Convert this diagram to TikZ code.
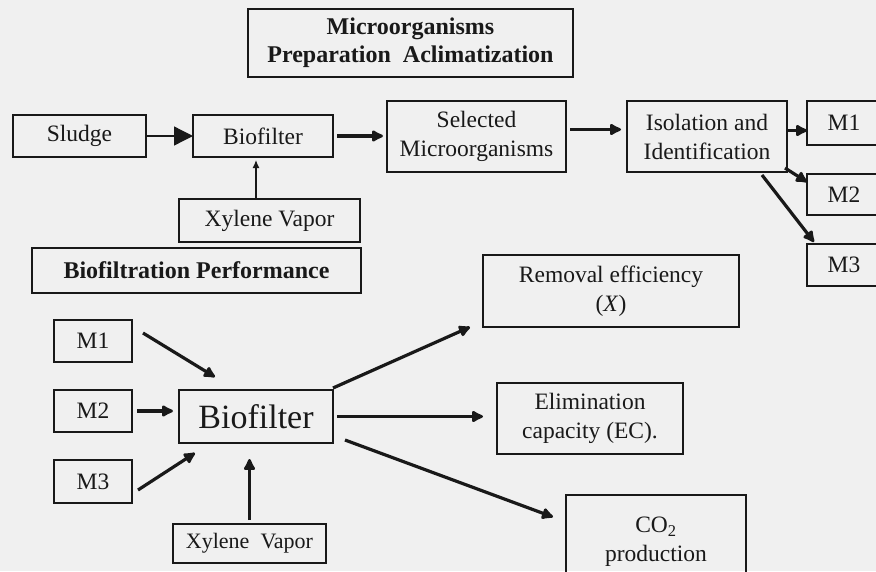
\documentclass[tikz,border=0pt]{standalone}
\usepackage{fontspec}
\setmainfont{Liberation Serif}
\usetikzlibrary{arrows.meta}
\definecolor{paper}{gray}{0.94}
\definecolor{ink}{gray}{0.1}
\begin{document}
\begin{tikzpicture}[x=1pt,y=-1pt,
	box/.style={draw=ink,line width=1.8pt,inner sep=0pt,outer sep=0pt,align=center,text=ink,font=\fontsize{23.5}{29}\selectfont},
	headbox/.style={box,font=\fontsize{24}{28}\selectfont\bfseries},
	flow/.style={draw=ink,line width=3.2pt,-{Latex[length=14pt,width=14pt,round]}},
	feed/.style={draw=ink,line width=1.3pt,-{Latex[length=8pt,width=7pt]}}]
	\fill [paper] (0,0) rectangle (876,571);
	\useasboundingbox (0,0) rectangle (876,571);
	\node [headbox,minimum width=325pt,minimum height=68pt] (prep) at (410.5,43) {Microorganisms\\Preparation\ \ Aclimatization};
	\node [box,minimum width=133pt,minimum height=42pt] (sludge) at (79.5,136) {Sludge};
	\node [box,minimum width=140pt,minimum height=42pt] (bioA) at (263,136) {Biofilter};
	\node [box,minimum width=181pt,minimum height=43pt] (xylA) at (269.5,220.5) {Xylene Vapor};
	\node [box,minimum width=179pt,minimum height=71pt] (selected) at (476.5,136.5) {Selected\\Microorganisms};
	\node [box,minimum width=160pt,minimum height=71pt] (isol) at (707,136.5) {Isolation and\\Identification};
	\node [box,minimum width=74pt,minimum height=44pt] (mA1) at (844,123) {M1};
	\node [box,minimum width=74pt,minimum height=41pt] (mA2) at (844,194.5) {M2};
	\node [box,minimum width=74pt,minimum height=42pt] (mA3) at (844,265) {M3};
	\node [headbox,minimum width=329pt,minimum height=45pt] (perf) at (196.5,270.5) {Biofiltration Performance};
	\node [box,minimum width=78pt,minimum height=42pt] (mB1) at (93,341) {M1};
	\node [box,minimum width=78pt,minimum height=42pt] (mB2) at (93,411) {M2};
	\node [box,minimum width=78pt,minimum height=43pt] (mB3) at (93,481.5) {M3};
	\node [box,minimum width=154pt,minimum height=53pt,font=\fontsize{34}{40}\selectfont] (bioB) at (256,416.5) {Biofilter};
	\node [box,minimum width=153pt,minimum height=39pt,font=\fontsize{22}{27}\selectfont] (xylB) at (249.5,543.5) {Xylene\ \ Vapor};
	\node [box,minimum width=256pt,minimum height=72pt] (removal) at (611,291) {Removal efficiency\\(\textit{X})};
	\node [box,minimum width=186pt,minimum height=71pt] (elim) at (590,418.5) {Elimination\\capacity (EC).};
	\node [box,minimum width=180pt,minimum height=93pt] (co2) at (656,541.5) {CO\textsubscript{2}\\production};
	\draw [draw=ink,line width=1.3pt,-{Triangle[length=19pt,width=19pt]}] (sludge.east) -- (bioA.west);
	\draw [feed,shorten >=3pt] ([xshift=-7pt]bioA.south |- xylA.north) -- ([xshift=-7pt]bioA.south);
	\draw [flow,shorten <=4pt,shorten >=4pt] (bioA.east) -- (bioA.east -| selected.west);
	\draw [flow,shorten <=4pt,shorten >=6pt] ([yshift=7pt]selected.east) -- ([yshift=7pt]selected.east -| isol.west);
	\draw [flow] ([yshift=6pt]isol.east) -- ([yshift=6pt]isol.east -| mA1.west);
	\draw [flow] ([xshift=-2pt,yshift=4pt]isol.south east) -- ([yshift=-8pt]mA2.north west);
	\draw [flow] ([xshift=-25pt,yshift=-3pt]isol.south east) -- ([xshift=7pt,yshift=2pt]mA3.north west);
	\draw [flow] ([xshift=11pt,yshift=8pt]mB1.east) -- ([xshift=36pt,yshift=13pt]bioB.north west);
	\draw [flow,shorten <=5pt,shorten >=6pt] (mB2.east) -- (mB2.east -| bioB.west);
	\draw [flow] ([xshift=6pt,yshift=-8.5pt]mB3.east) -- ([xshift=16pt,yshift=-10pt]bioB.south west);
	\draw [flow,shorten <=4pt,shorten >=16pt] (xylB.north) -- (xylB.north |- bioB.south);
	\draw [flow] ([yshift=2pt]bioB.north east) -- ([xshift=-13pt]removal.south west);
	\draw [flow,shorten <=4pt,shorten >=14pt] (bioB.east) -- (bioB.east -| elim.west);
	\draw [flow] ([xshift=12pt,yshift=3pt]bioB.south east) -- ([xshift=-13pt,yshift=-22pt]co2.north west);
\end{tikzpicture}
\end{document}
